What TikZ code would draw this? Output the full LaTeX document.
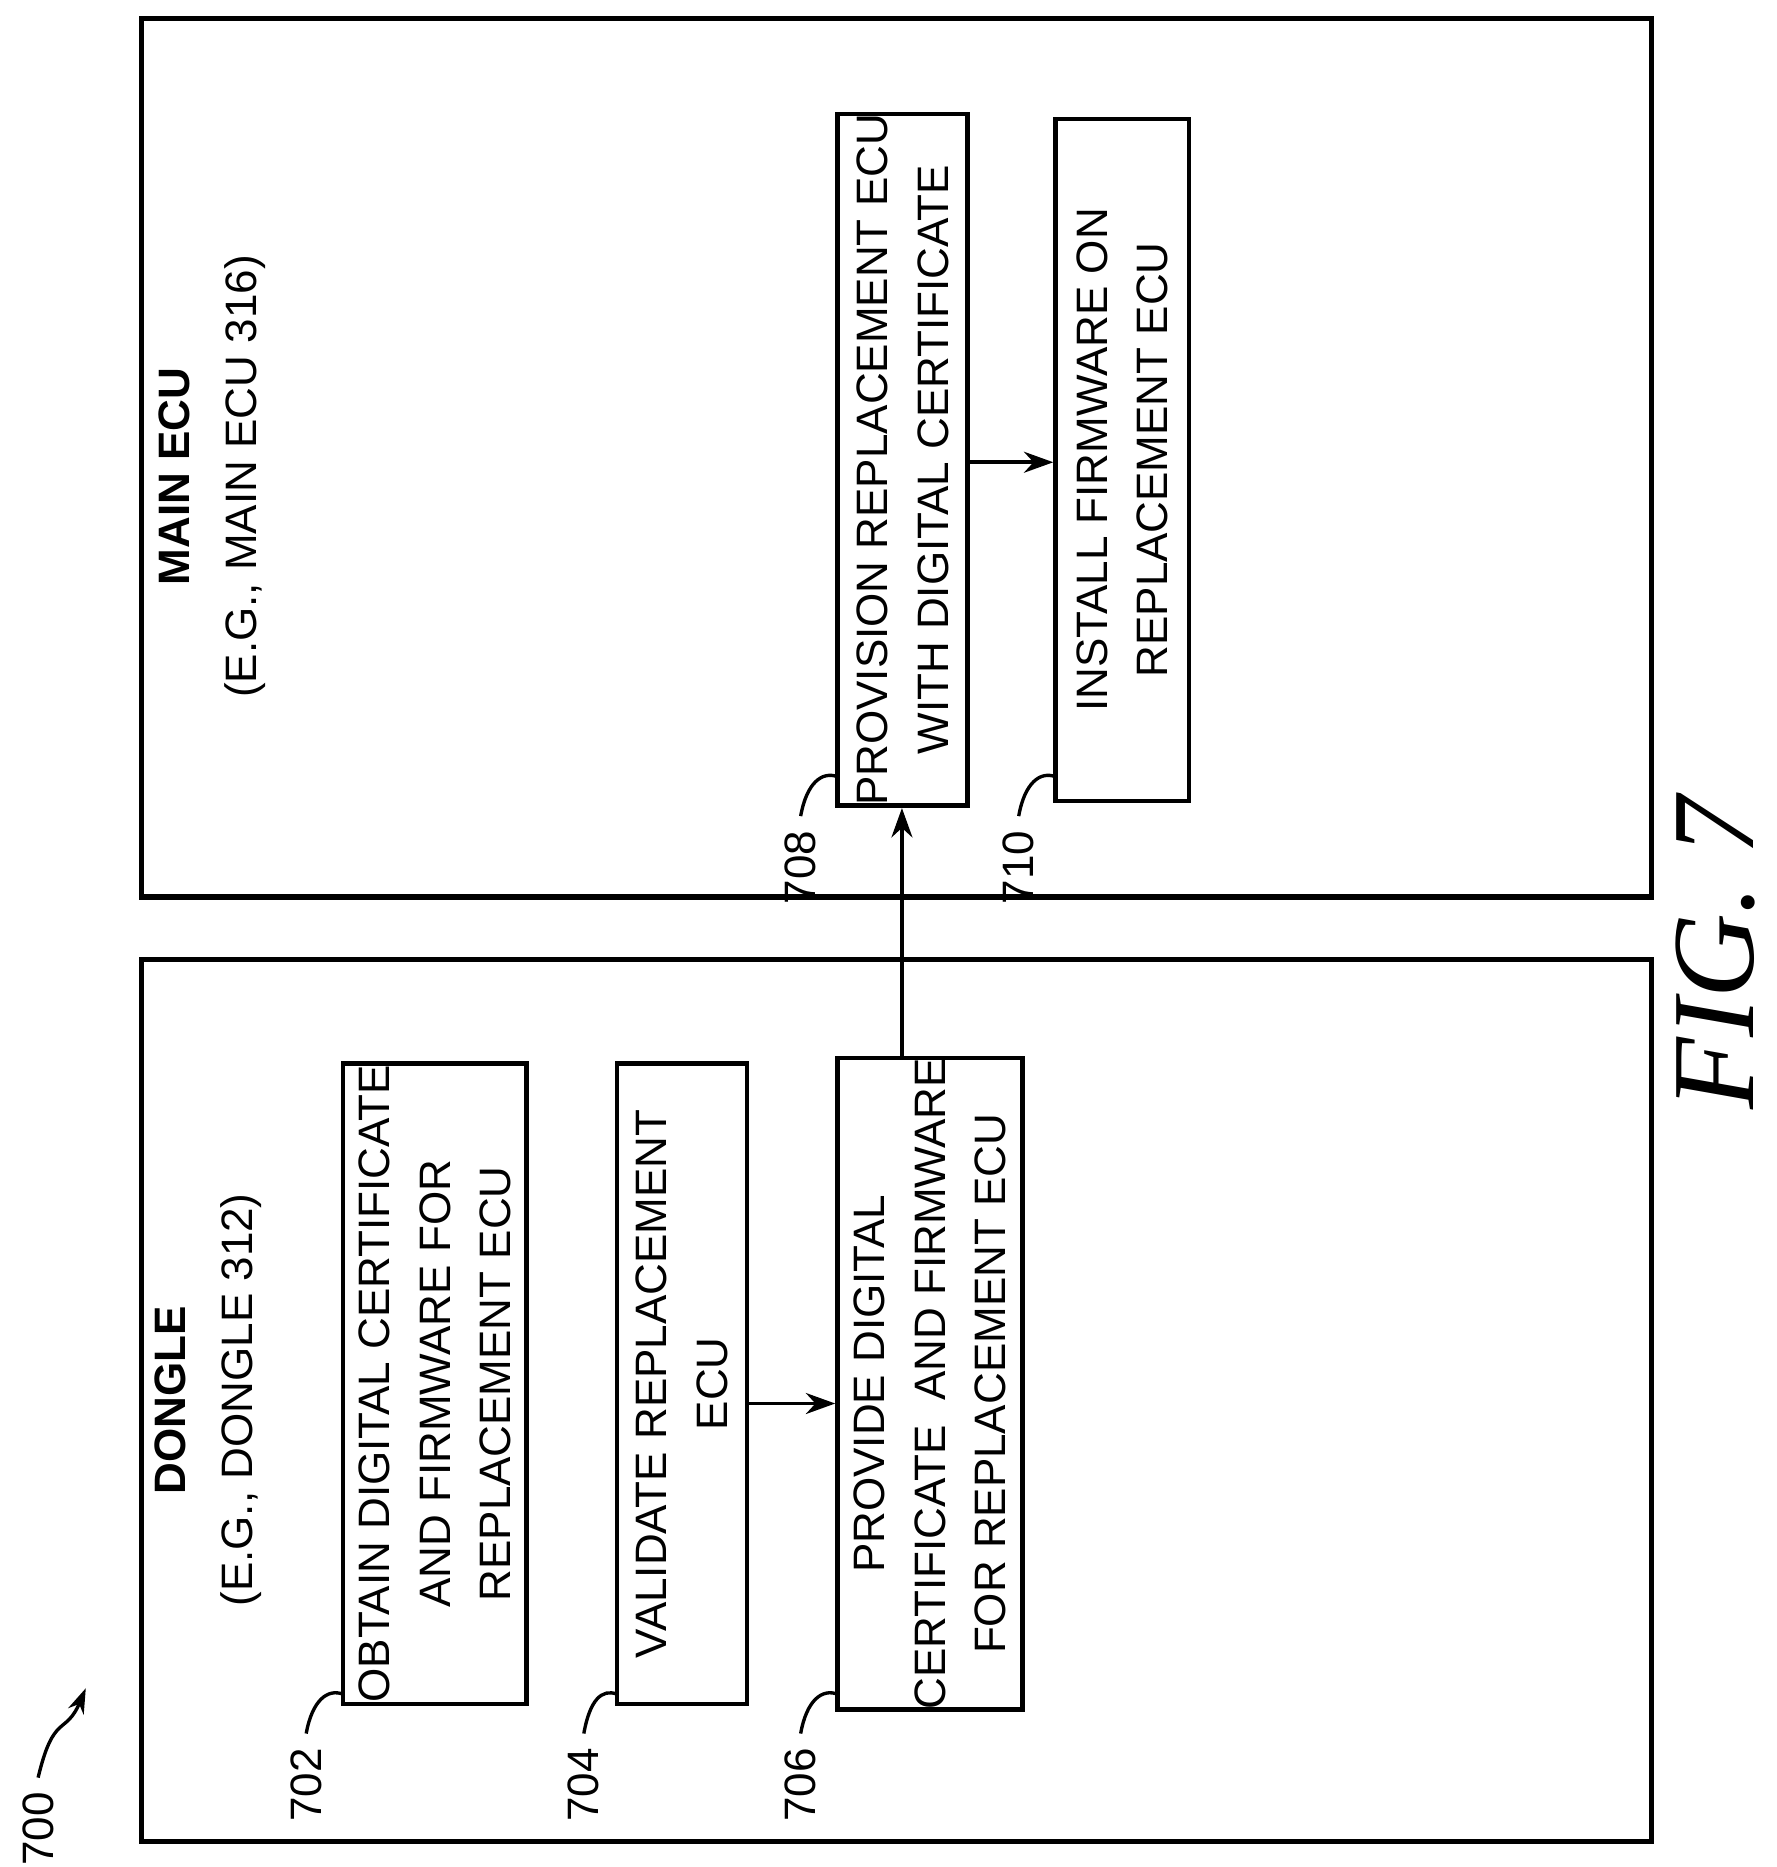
\documentclass[tikz,border=0pt]{standalone}
\usepackage{fontspec}
\setmainfont{Liberation Sans}
\newfontfamily\figfont{Liberation Serif}
\usetikzlibrary{arrows.meta}
\begin{document}
\begin{tikzpicture}[x=0.01cm,y=0.01cm,
  frame/.style={draw,line width=1.2pt,inner sep=0pt},
  stepbox/.style={draw,line width=1.1pt,rotate=90,align=center,inner sep=0pt,font=\fontsize{10.5}{14.5}\selectfont},
  lbl/.style={rotate=90,font=\fontsize{10.5}{12}\selectfont,anchor=east},
  arr/.style={-{Stealth[length=7pt,width=5pt]},line width=0.9pt}]
\useasboundingbox (0,0) rectangle (1491,1567);
\node[frame,minimum width=12.66cm,minimum height=7.40cm,anchor=south west] (dongle) at (117,19) {};
\node[frame,minimum width=12.66cm,minimum height=7.37cm,anchor=south west] (main) at (117,812) {};
\node[rotate=90,align=center,font=\fontsize{10.5}{16}\selectfont] (dt) at (175,392) {\textbf{DONGLE}\\(E.G., DONGLE 312)};
\node[rotate=90,align=center,font=\fontsize{10.5}{16}\selectfont] (mt) at (178,1167) {\textbf{MAIN ECU}\\(E.G., MAIN ECU 316)};
\node[stepbox,minimum width=5.37cm,minimum height=1.54cm] (b702) at (365,405.5) {OBTAIN DIGITAL CERTIFICATE\\AND FIRMWARE FOR\\REPLACEMENT ECU};
\node[stepbox,minimum width=5.37cm,minimum height=1.09cm] (b704) at (572.5,405.5) {VALIDATE REPLACEMENT\\ECU};
\node[stepbox,minimum width=5.37cm,minimum height=1.55cm] (b706) at (780.5,405.5) {PROVIDE DIGITAL\\CERTIFICATE\ \ AND FIRMWARE\\FOR REPLACEMENT ECU};
\node[stepbox,minimum width=5.72cm,minimum height=1.09cm] (b708) at (757.5,1181) {PROVISION REPLACEMENT ECU\\WITH DIGITAL CERTIFICATE};
\node[stepbox,minimum width=5.72cm,minimum height=1.12cm] (b710) at (942,1181) {INSTALL FIRMWARE ON\\REPLACEMENT ECU};
\draw[arr] (b704.south |- 0,389) -- (b706.north |- 0,389);
\draw[arr] (b706.east -| 757,0) -- (b708.west -| 757,0);
\draw[arr] (b708.south |- 0,1179) -- (b710.north |- 0,1179);
\node[lbl] (l702) at (257,112) {702};
\node[lbl] (l704) at (490,112) {704};
\node[lbl] (l706) at (672,112) {706};
\node[lbl] (l708) at (672,882) {708};
\node[lbl] (l710) at (855,882) {710};
\draw[line width=0.8pt] (l702.east) .. controls (262,140) and (275,150) .. (288,145);
\draw[line width=0.8pt] (l704.east) .. controls (495,140) and (505,150) .. (518,145);
\draw[line width=0.8pt] (l706.east) .. controls (677,140) and (690,150) .. (703,145);
\draw[line width=0.8pt] (l708.east) .. controls (677,910) and (690,920) .. (703,915);
\draw[line width=0.8pt] (l710.east) .. controls (860,910) and (873,920) .. (886,915);
\node[lbl] (l700) at (32,75) {700};
\coordinate (a700) at (72,150);
\draw[-{Stealth[length=6pt,width=4pt]},line width=0.8pt] (l700.east) .. controls (45,130) and (55,110) .. (a700);
\node[rotate=90,font=\figfont\itshape\fontsize{28}{28}\selectfont] (fig) at (1440,767) {FIG. 7};
\end{tikzpicture}
\end{document}
